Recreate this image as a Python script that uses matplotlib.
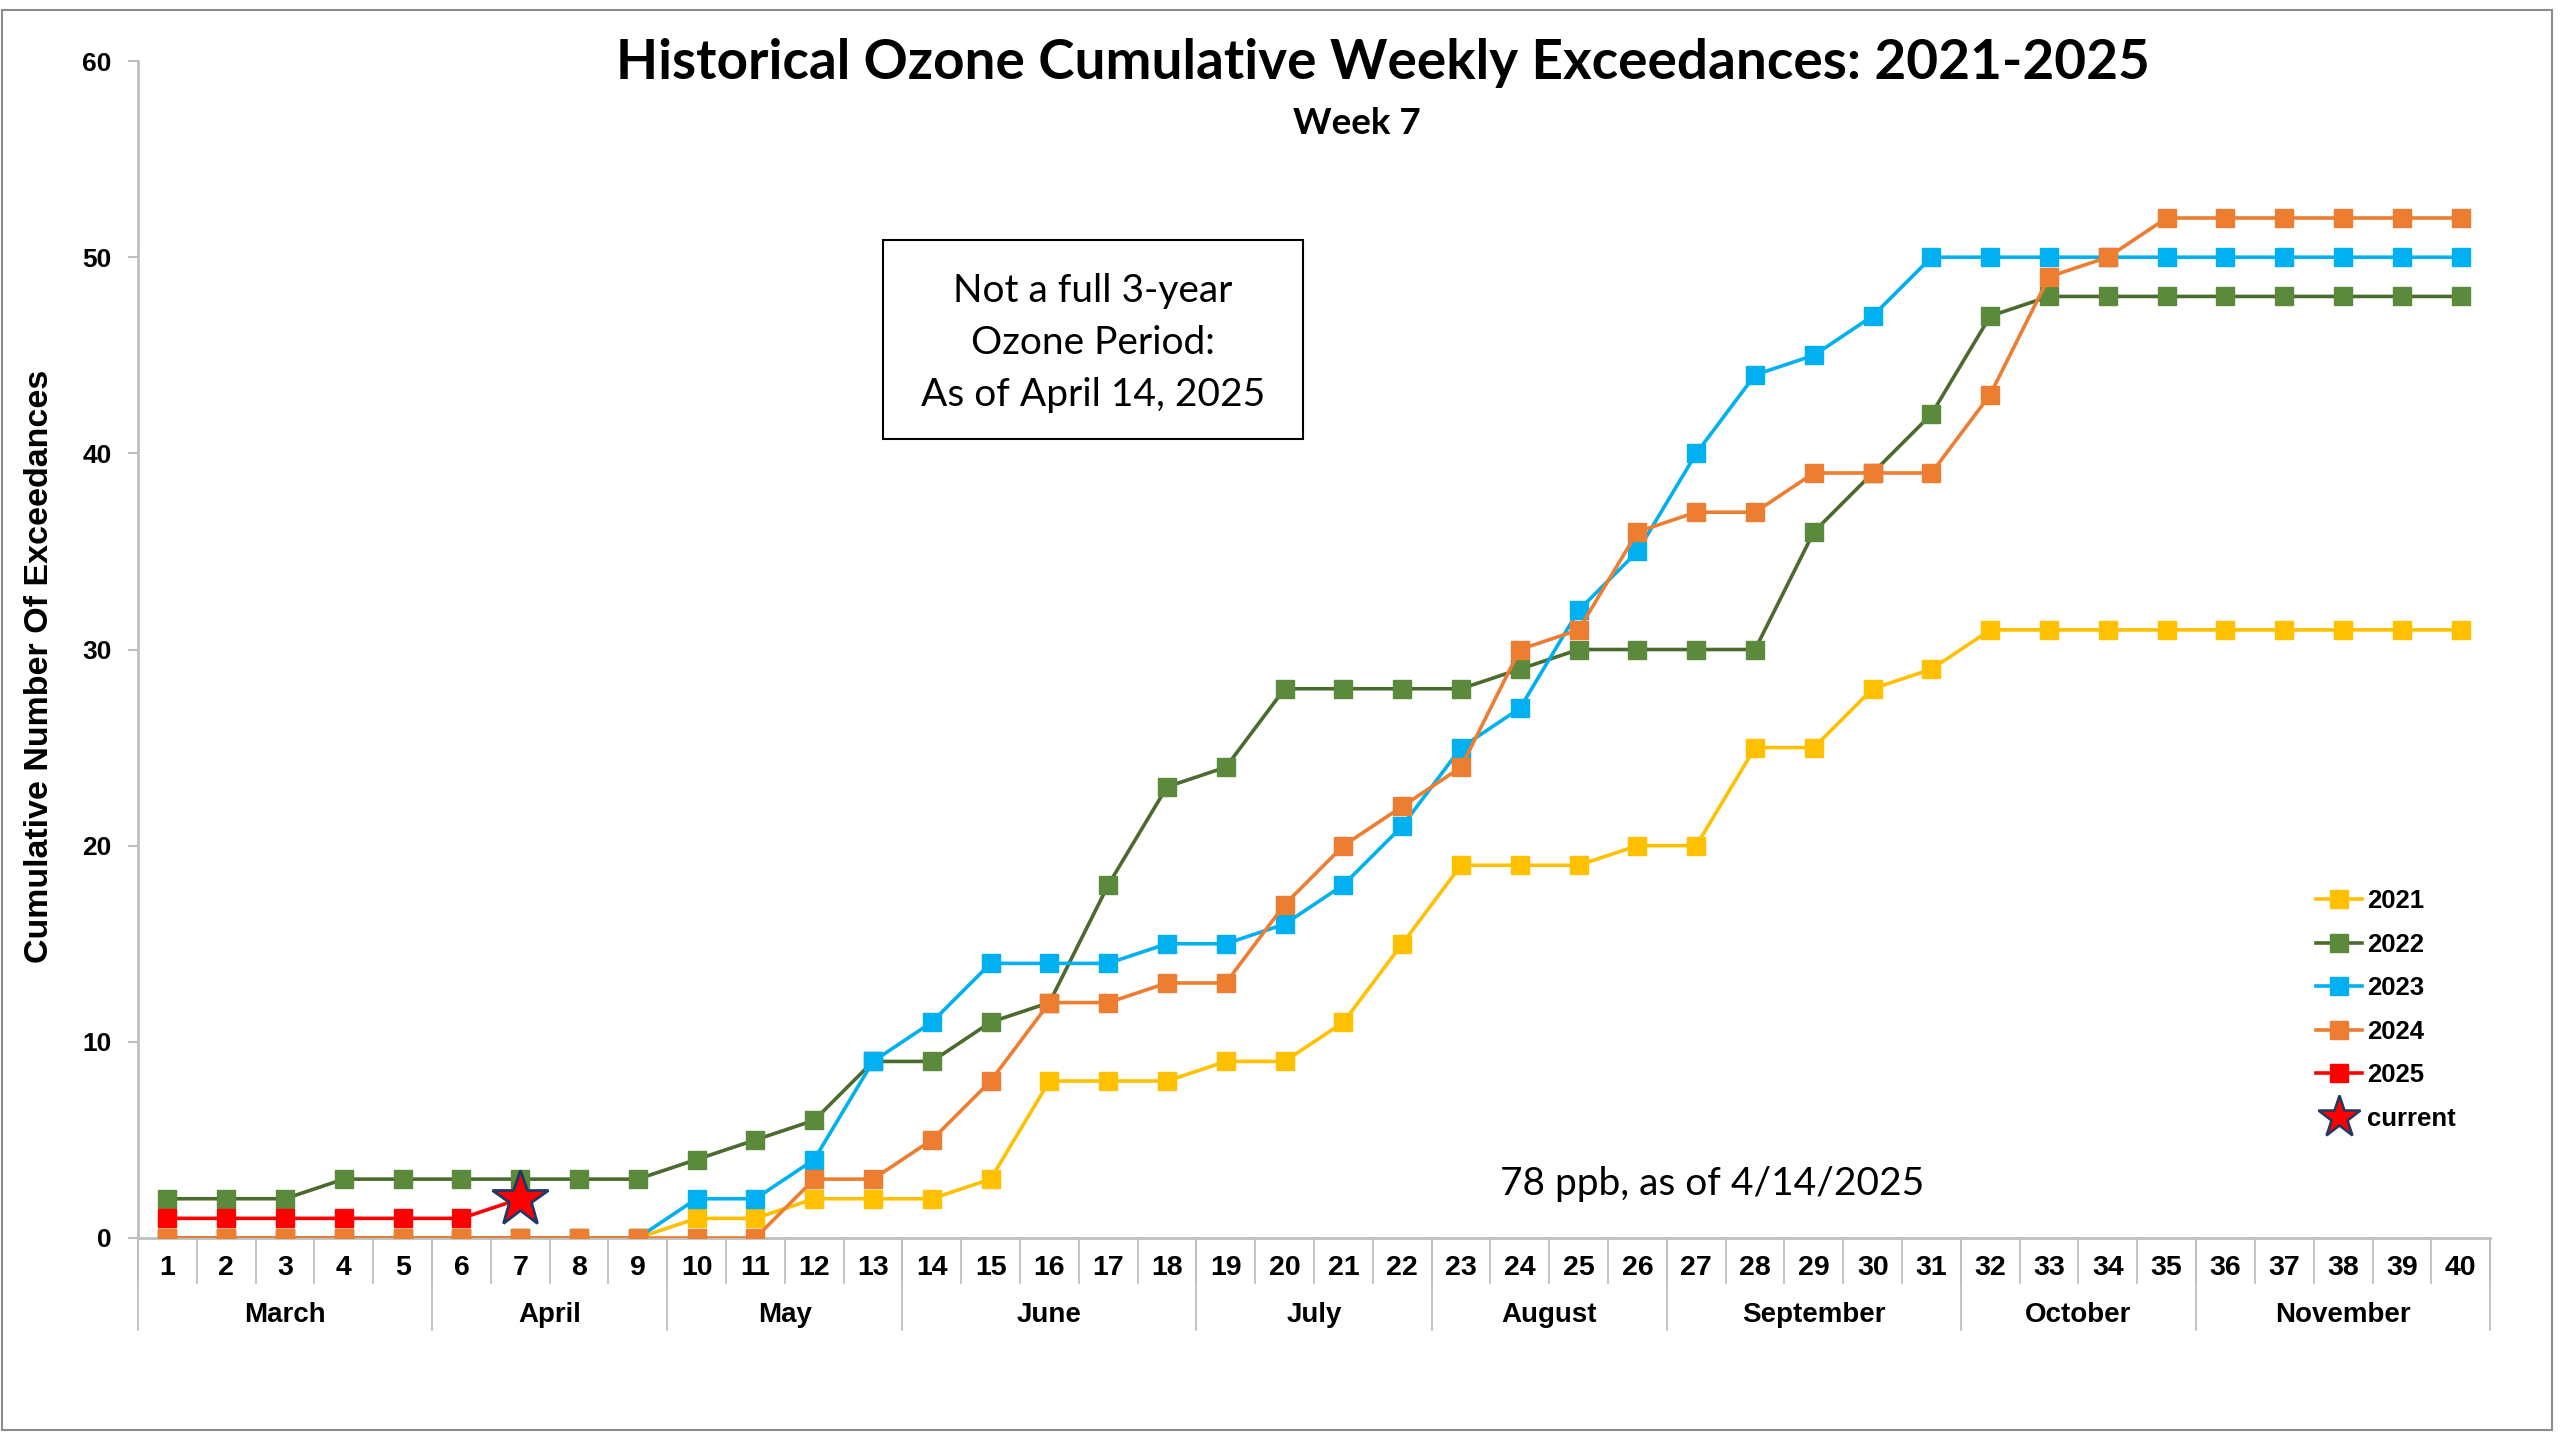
import matplotlib.pyplot as plt
from matplotlib.lines import Line2D
from matplotlib.patches import Rectangle

# weekly cumulative exceedances
weeks = list(range(1, 41))
months = ["March", "April", "May", "June", "July", "August",
          "September", "October", "November"]
weeks_per_month = [5, 4, 4, 5, 4, 4, 5, 4, 5]

y2021 = [0, 0, 0, 0, 0, 0, 0, 0, 0, 1, 1, 2, 2, 2, 3, 8, 8, 8, 9, 9,
         11, 15, 19, 19, 19, 20, 20, 25, 25, 28, 29, 31, 31, 31, 31, 31, 31, 31, 31, 31]
y2022 = [2, 2, 2, 3, 3, 3, 3, 3, 3, 4, 5, 6, 9, 9, 11, 12, 18, 23, 24, 28,
         28, 28, 28, 29, 30, 30, 30, 30, 36, 39, 42, 47, 48, 48, 48, 48, 48, 48, 48, 48]
y2023 = [0, 0, 0, 0, 0, 0, 0, 0, 0, 2, 2, 4, 9, 11, 14, 14, 14, 15, 15, 16,
         18, 21, 25, 27, 32, 35, 40, 44, 45, 47, 50, 50, 50, 50, 50, 50, 50, 50, 50, 50]
y2024 = [0, 0, 0, 0, 0, 0, 0, 0, 0, 0, 0, 3, 3, 5, 8, 12, 12, 13, 13, 17,
         20, 22, 24, 30, 31, 36, 37, 37, 39, 39, 39, 43, 49, 50, 52, 52, 52, 52, 52, 52]
y2025 = [1, 1, 1, 1, 1, 1, 2]

current_week = 7
current_value = 2

series = [
    ("2021", y2021, "#FFC000", "#FFC000"),
    ("2022", y2022, "#4A6A2E", "#5B8A3C"),
    ("2023", y2023, "#00B0F0", "#00B0F0"),
    ("2024", y2024, "#ED7D31", "#ED7D31"),
    ("2025", y2025, "#FF0000", "#FF0000"),
]

TICK_FONT = ["Liberation Sans Narrow", "Liberation Sans", "DejaVu Sans"]
BOLD_FONT = ["Liberation Sans", "DejaVu Sans"]
NOTE_FONT = ["Lato", "DejaVu Sans"]
GRID_GRAY = "#BFBFBF"

fig = plt.figure(figsize=(25.6, 14.4), dpi=100)
ax = fig.add_axes([0.0539, 0.1403, 0.9188, 0.8173])

handles = []
for label, values, line_color, marker_color in series:
    (ln,) = ax.plot(
        weeks[: len(values)],
        values,
        color=line_color,
        linewidth=2.6,
        marker="s",
        markersize=13,
        markerfacecolor=marker_color,
        markeredgecolor=marker_color,
        label=label,
        zorder=3,
    )
    handles.append(ln)

ax.plot(
    [current_week],
    [current_value],
    linestyle="none",
    marker="*",
    markersize=42,
    markerfacecolor="#FF0000",
    markeredgecolor="#1F3864",
    markeredgewidth=2,
    zorder=5,
)
handles.append(
    Line2D([], [], linestyle="none", marker="*", markersize=32,
           markerfacecolor="#FF0000", markeredgecolor="#1F3864",
           markeredgewidth=1.8, label="current")
)

ax.set_xlim(0.5, len(weeks) + 0.5)
ax.set_ylim(0, 60)
ax.set_yticks(range(0, 61, 10))
for lbl in ax.get_yticklabels():
    lbl.set_fontfamily(BOLD_FONT)
    lbl.set_fontweight("bold")
    lbl.set_fontsize(19)
ax.tick_params(axis="y", direction="out", length=7, width=1.5, color=GRID_GRAY, pad=12)

for side in ["top", "right"]:
    ax.spines[side].set_visible(False)
ax.spines["left"].set_color(GRID_GRAY)
ax.spines["left"].set_linewidth(2)
ax.spines["bottom"].set_color(GRID_GRAY)
ax.spines["bottom"].set_linewidth(2)

# category axis: week numbers with month groups below
ax.set_xticks(weeks)
ax.set_xticklabels([])
ax.tick_params(axis="x", length=0)
xt = ax.get_xaxis_transform()
for w in weeks:
    ax.text(w, -0.0255, str(w), transform=xt, ha="center", va="center",
            fontsize=20.5, fontweight="bold", family=TICK_FONT)
    ax.plot([w - 0.5, w - 0.5], [0, -0.0382], transform=xt, color=GRID_GRAY,
            linewidth=1.3, clip_on=False)
ax.plot([len(weeks) + 0.5] * 2, [0, -0.0382], transform=xt, color=GRID_GRAY,
        linewidth=1.3, clip_on=False)

start = 0.5
for name, n in zip(months, weeks_per_month):
    ax.plot([start, start], [0, -0.0782], transform=xt, color=GRID_GRAY,
            linewidth=1.3, clip_on=False)
    ax.text(start + n / 2, -0.0654, name, transform=xt, ha="center", va="center",
            fontsize=20, fontweight="bold", family=TICK_FONT)
    start += n
ax.plot([start, start], [0, -0.0782], transform=xt, color=GRID_GRAY,
        linewidth=1.3, clip_on=False)

ax.set_ylabel("Cumulative Number Of Exceedances", fontsize=24.5, fontweight="bold",
              family=BOLD_FONT)
ax.yaxis.set_label_coords(0.0215, 0.5375, transform=fig.transFigure)

fig.text(0.540, 0.956, "Historical Ozone Cumulative Weekly Exceedances: 2021-2025",
         ha="center", va="center", fontsize=39.5, fontweight="bold", family=NOTE_FONT)
fig.text(0.530, 0.914, "Week 7", ha="center", va="center", fontsize=26.5,
         fontweight="bold", family=NOTE_FONT)

# note box
fig.patches.append(Rectangle((0.3449, 0.6951), 0.1641, 0.1382, transform=fig.transFigure,
                             fill=False, edgecolor="black", linewidth=1.5))
fig.text(0.4270, 0.7615, "Not a full 3-year\nOzone Period:\nAs of April 14, 2025",
         ha="center", va="center", fontsize=28, family=NOTE_FONT, linespacing=1.55)

fig.text(0.6688, 0.178, "78 ppb, as of 4/14/2025", ha="center", va="center",
         fontsize=28, family=NOTE_FONT)

leg = fig.legend(
    handles=handles,
    loc="upper left",
    bbox_to_anchor=(0.8995, 0.3915),
    frameon=False,
    borderpad=0,
    handlelength=1.8,
    handletextpad=0.2,
    labelspacing=0.76,
    prop={"family": BOLD_FONT, "weight": "bold", "size": 18.5},
)

# outer chart border
fig.patches.append(Rectangle((0.0008, 0.007), 0.9962, 0.986, transform=fig.transFigure,
                             fill=False, edgecolor="#8C8C8C", linewidth=1.5))

fig.savefig("out.png", dpi=100)
plt.close(fig)
